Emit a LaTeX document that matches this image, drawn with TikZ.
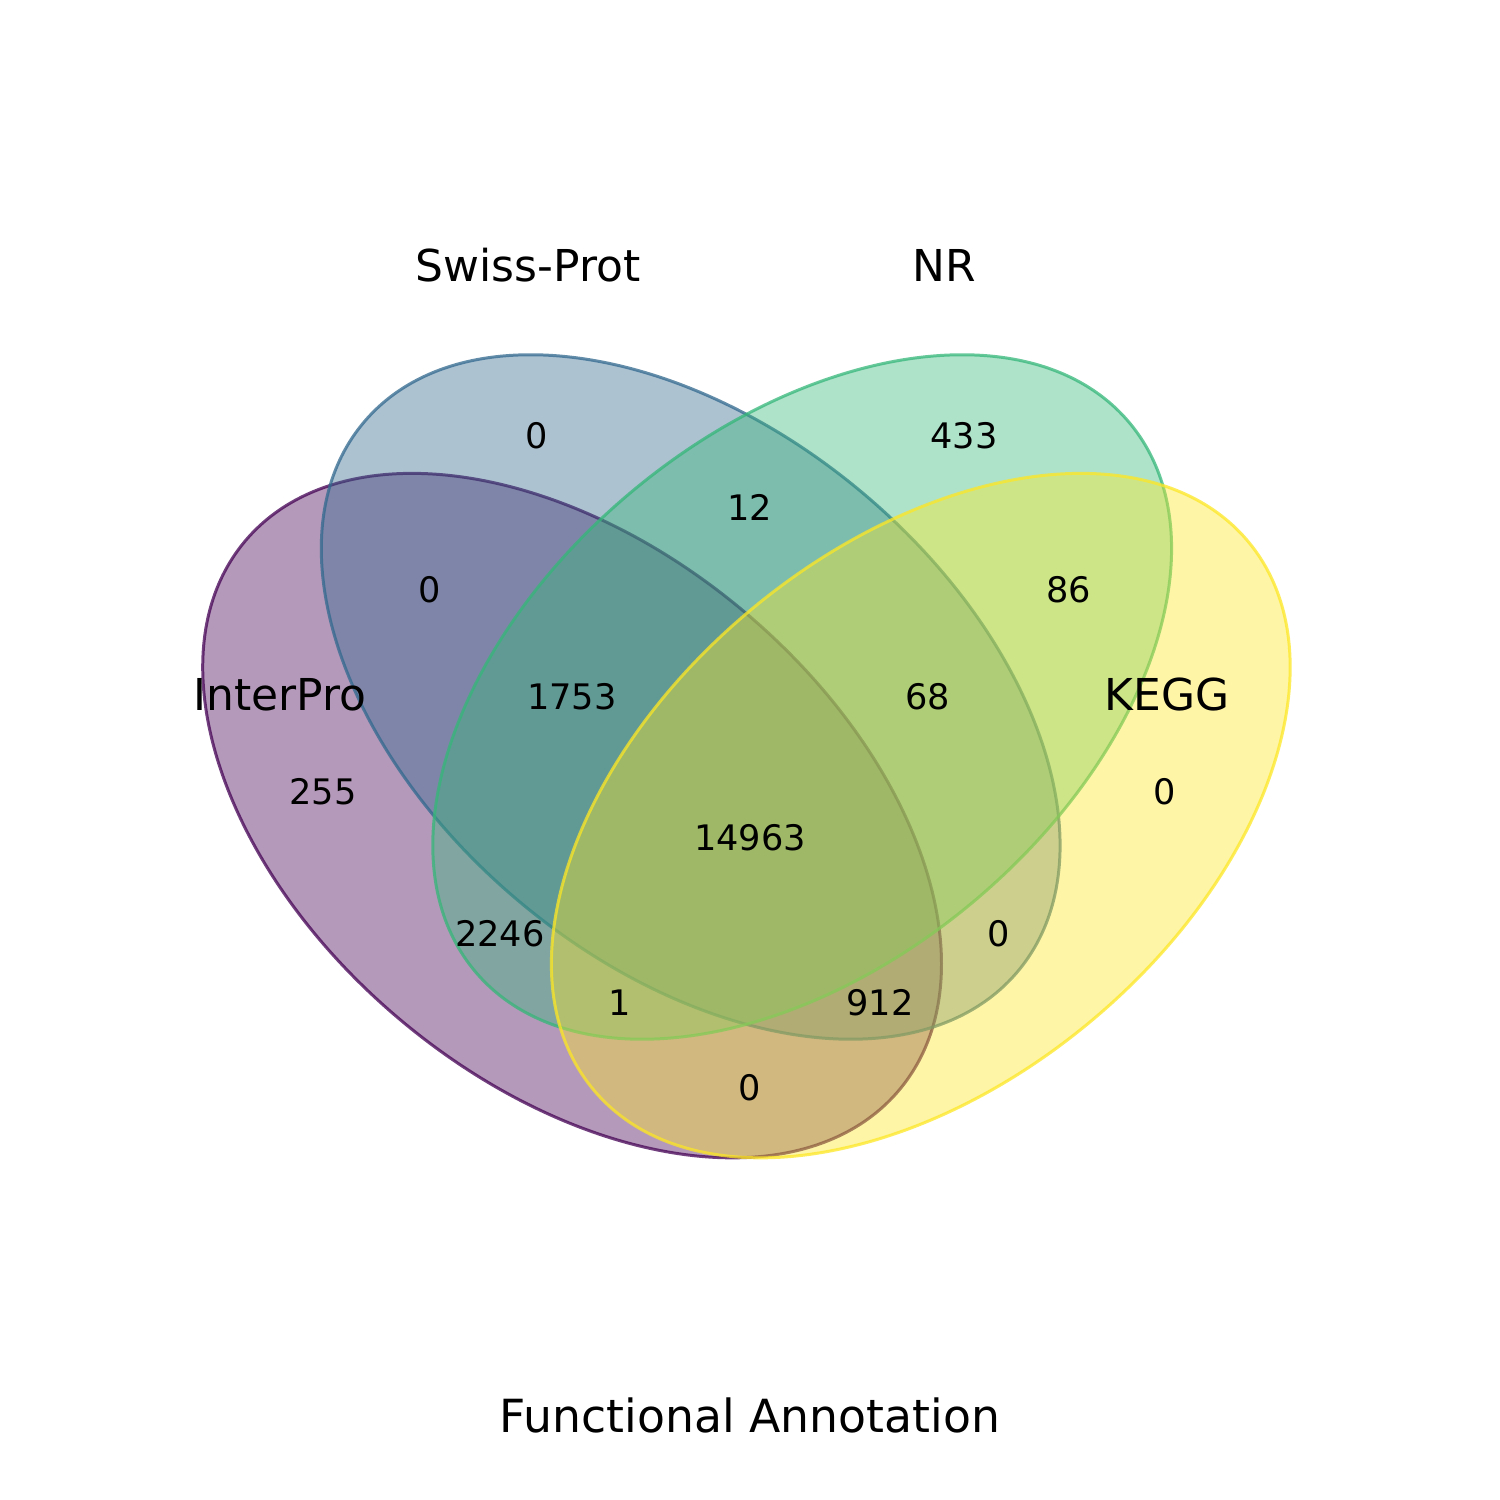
\documentclass[tikz,border=0pt]{standalone}
\usepackage{fontspec}
\setmainfont{DejaVu Sans}
\definecolor{vpurple}{HTML}{440154}
\definecolor{vblue}{HTML}{31688E}
\definecolor{vgreen}{HTML}{35B779}
\definecolor{vyellow}{HTML}{FDE725}
\tikzset{
  setshape/.style={fill=#1, draw=#1, fill opacity=0.4, draw opacity=0.75, line width=0.85pt},
  num/.style={font=\fontsize{10}{12}\selectfont, inner sep=0pt},
  setlabel/.style={font=\fontsize{12.5}{15}\selectfont, inner sep=0pt},
  titlelabel/.style={font=\fontsize{13}{15}\selectfont, inner sep=0pt}
}
\begin{document}
\begin{tikzpicture}
\useasboundingbox (0,0) rectangle (15,15);
\fill[white] (0,0) rectangle (15,15);
\begin{scope}[shift={(1.57,2.10)}, scale=11.86]
  \draw[setshape=vpurple, rotate around={140:(0.350,0.400)}] (0.350,0.400) ellipse [x radius=0.36, y radius=0.225];
  \draw[setshape=vblue, rotate around={140:(0.450,0.500)}] (0.450,0.500) ellipse [x radius=0.36, y radius=0.225];
  \draw[setshape=vgreen, rotate around={40:(0.544,0.500)}] (0.544,0.500) ellipse [x radius=0.36, y radius=0.225];
  \draw[setshape=vyellow, rotate around={40:(0.644,0.400)}] (0.644,0.400) ellipse [x radius=0.36, y radius=0.225];
\end{scope}
% region counts (pixel/100, y flipped)
\node[num] (n0100) at (5.37,10.64) {0};
\node[num] (n0010) at (9.64,10.64) {433};
\node[num] (n0110) at (7.50,9.93) {12};
\node[num] (n1100) at (4.30,9.10) {0};
\node[num] (n0011) at (10.69,9.10) {86};
\node[num] (n1110) at (5.72,8.03) {1753};
\node[num] (n0111) at (9.28,8.03) {68};
\node[num] (n1000) at (3.23,7.08) {255};
\node[num] (n0001) at (11.65,7.08) {0};
\node[num] (n1111) at (7.50,6.62) {14963};
\node[num] (n1010) at (5.00,5.66) {2246};
\node[num] (n0101) at (9.99,5.66) {0};
\node[num] (n1011) at (6.20,4.97) {1};
\node[num] (n1101) at (8.80,4.97) {912};
\node[num] (n1001) at (7.50,4.12) {0};
% set labels
\node[setlabel] (lsp) at (5.28,12.35) {Swiss-Prot};
\node[setlabel] (lnr) at (9.44,12.35) {NR};
\node[setlabel] (lip) at (2.80,8.05) {InterPro};
\node[setlabel] (lkg) at (11.67,8.05) {KEGG};
\node[titlelabel] (title) at (7.50,0.85) {Functional Annotation};
\end{tikzpicture}
\end{document}
